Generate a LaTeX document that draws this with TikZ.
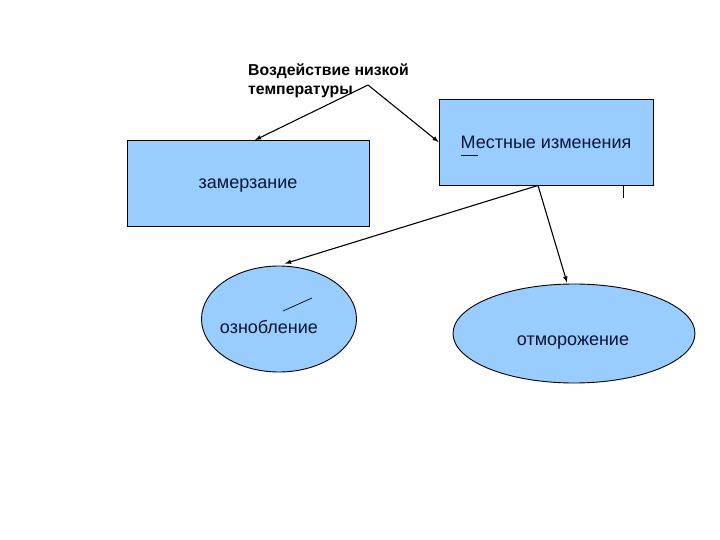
\documentclass[tikz,border=0pt]{standalone}
\usepackage{fontspec}
\setmainfont{Liberation Sans}
\usetikzlibrary{arrows,shapes.geometric}
\definecolor{boxblue}{HTML}{99CCFF}
\definecolor{textnavy}{HTML}{0A1530}

\begin{document}
\begin{tikzpicture}[x=1pt,y=-1pt,
  blok/.style={rectangle,draw=black,fill=boxblue,line width=0.9pt,inner sep=0pt,
    minimum width=#1,minimum height=86pt,text=textnavy,font=\fontsize{18}{21}\selectfont},
  oval/.style={ellipse,draw=black,fill=boxblue,line width=0.9pt,inner sep=0pt},
  ovaltext/.style={text=textnavy,font=\fontsize{18}{21}\selectfont,inner sep=0pt},
  link/.style={-latex,line width=1.1pt}]
\useasboundingbox (0,0) rectangle (720,540);
% \draw[help lines,step=50pt] (0,0) grid (720,540);
\node (title) [anchor=north west,align=left,inner sep=0pt,
  font=\bfseries\fontsize{15.8}{19}\selectfont] at (248,64)
  {Воздействие низкой\\температуры};
\coordinate (apex) at (368,85);
\node (zam) [blok=242pt,text depth=0pt] at (248,183.5) {замерзание};
\node (mest) [blok=214pt] at (546,142) {Местные изменения};
\node (ozn) [oval,minimum width=155pt,minimum height=106pt,
  label={[ovaltext,xshift=-10pt,yshift=-8pt]center:ознобление}] at (279,319) {};
\node (otm) [oval,minimum width=242pt,minimum height=99pt,
  label={[ovaltext,xshift=-1pt,yshift=-9pt]center:отморожение}] at (574,333.5) {};
%
\path[link]
(apex) edge ([xshift=7pt]zam.north)
(apex) edge (mest.west)
([xshift=-8pt]mest.south) edge ([xshift=6pt,yshift=2pt]ozn.north)
([xshift=-8pt]mest.south) edge ([xshift=-7pt,yshift=1pt]otm.north)
;
% stray strokes
\draw[line width=0.7pt] (461,155) -- (478,155);
\draw[line width=0.7pt] ([xshift=-30pt]mest.south east) -- ++(0,13);
\draw[line width=0.7pt] (283,311) -- (312,298);
\end{tikzpicture}
\end{document}
